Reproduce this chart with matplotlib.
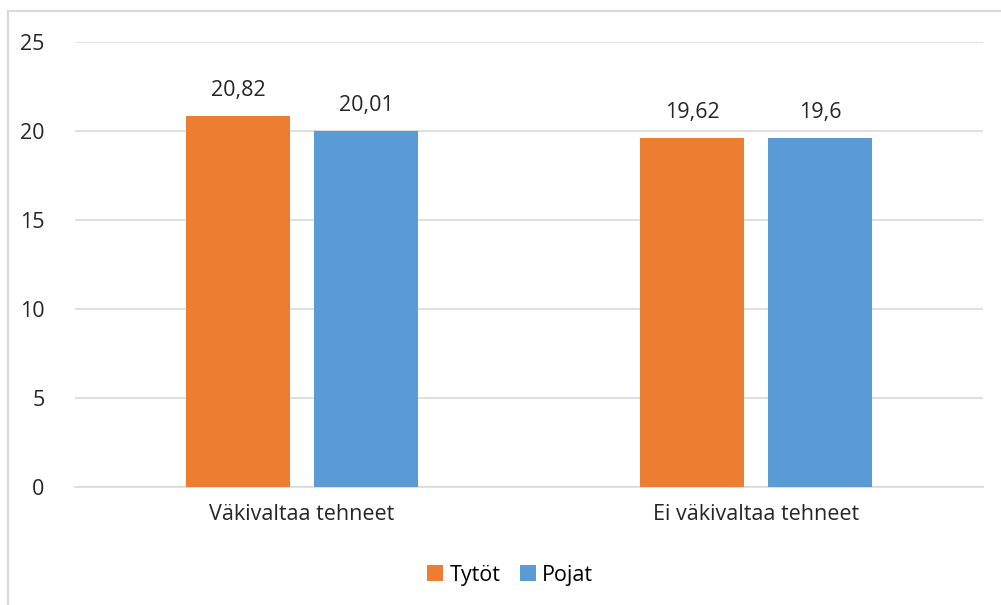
import matplotlib.pyplot as plt
import numpy as np
from matplotlib.patches import Rectangle

# Data
categories = ['Väkivaltaa tehneet', 'Ei väkivaltaa tehneet']
tytot = [20.82, 19.62]
pojat = [20.01, 19.6]
tytot_labels = ['20,82', '19,62']
pojat_labels = ['20,01', '19,6']

plt.rcParams['font.family'] = ['Open Sans', 'DejaVu Sans']

fig = plt.figure(figsize=(10.01, 6.05), dpi=100)
ax = fig.add_axes([75 / 1001, 1 - 487 / 605, 908 / 1001, 445 / 605])

# outer chart border (light grey)
fig.patches.append(Rectangle((8 / 1001, -0.1), 1.1, 1 - 11 / 605 + 0.1,
                             transform=fig.transFigure, fill=False,
                             edgecolor='#d9d9d9', linewidth=1.5))

x = np.arange(len(categories))
w = 0.229
off = 0.141
b1 = ax.bar(x - off, tytot, w, color='#ED7D31', label='Tytöt', zorder=3)
b2 = ax.bar(x + off, pojat, w, color='#5B9BD5', label='Pojat', zorder=3)

for bars, labels in [(b1, tytot_labels), (b2, pojat_labels)]:
    for rect, lab in zip(bars, labels):
        ax.text(rect.get_x() + rect.get_width() / 2, rect.get_height() + 0.85, lab,
                ha='center', va='bottom', fontsize=15.5, color='#262626')

ax.set_xlim(-0.5, 1.5)
ax.set_ylim(0, 25)
ax.set_yticks([0, 5, 10, 15, 20, 25])
ax.set_xticks(x)
ax.set_xticklabels(categories)
ax.tick_params(axis='both', length=0, labelsize=15.5, colors='#262626')
ax.tick_params(axis='y', pad=22)
ax.tick_params(axis='x', pad=12)
ax.grid(axis='y', color='#d9d9d9', linewidth=1.2, zorder=0)
for s in ['top', 'right', 'left']:
    ax.spines[s].set_visible(False)
ax.spines['bottom'].set_color('#d9d9d9')
ax.spines['bottom'].set_linewidth(1.2)

fig.legend(loc='center', bbox_to_anchor=(510 / 1001, 1 - 575 / 605), ncol=2,
           frameon=False, fontsize=15.5, handlelength=0.75, handleheight=0.75,
           handletextpad=0.3, columnspacing=0.9)

fig.savefig('out.png', dpi=100)
